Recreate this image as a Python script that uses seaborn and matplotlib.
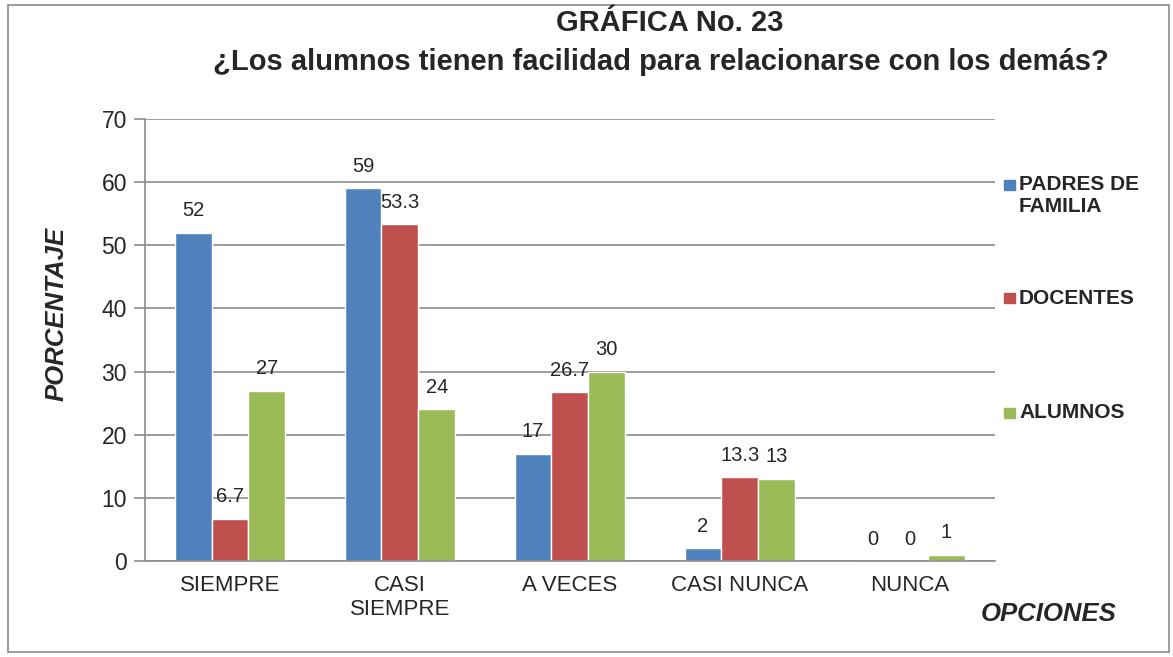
import matplotlib
matplotlib.use("Agg")
import matplotlib.pyplot as plt
import seaborn as sns
import pandas as pd
from matplotlib.patches import Rectangle

# datos
opciones = ["SIEMPRE", "CASI\nSIEMPRE", "A VECES", "CASI NUNCA", "NUNCA"]
grupos = ["PADRES DE\nFAMILIA", "DOCENTES", "ALUMNOS"]
padres = [52, 59, 17, 2, 0]
docentes = [6.7, 53.3, 26.7, 13.3, 0]
alumnos = [27, 24, 30, 13, 1]
colores = ["#4F81BD", "#C0504D", "#9BBB59"]

rows = []
for g, vals in zip(grupos, [padres, docentes, alumnos]):
    for o, v in zip(opciones, vals):
        rows.append({"opcion": o, "grupo": g, "valor": v})
df = pd.DataFrame(rows)

sns.set_style("white")
plt.rcParams["font.family"] = ["Liberation Sans", "DejaVu Sans"]

W, H = 1173, 657
fig = plt.figure(figsize=(W / 100, H / 100), dpi=100)
ax = fig.add_axes([0.1236, 0.146, 0.7244, 0.673])

sns.barplot(data=df, x="opcion", y="valor", hue="grupo", palette=colores,
            order=opciones, hue_order=grupos, width=0.65, saturation=1,
            ax=ax, legend=False)

for cont, vals in zip(ax.containers, [padres, docentes, alumnos]):
    ax.bar_label(cont, labels=[f"{v:g}" for v in vals], padding=9, fontsize=14.5)

ax.set_ylim(0, 70)
ax.set_yticks(range(0, 71, 10))
ax.set_xlim(-0.5, 4.5)
ax.yaxis.grid(True, color="#8c8c8c", linewidth=1.2)
ax.set_axisbelow(True)
for s in ["top", "right"]:
    ax.spines[s].set_visible(False)
for s in ["left", "bottom"]:
    ax.spines[s].set_color("#8c8c8c")
    ax.spines[s].set_linewidth(1.2)
ax.tick_params(axis="y", labelsize=16.5, length=8, color="#8c8c8c", width=1.2, pad=5, left=True)
ax.tick_params(axis="x", labelsize=16, length=0, pad=10)
ax.set_xlabel("")
ax.set_ylabel("")

fig.text(0.048, 0.522, "PORCENTAJE", rotation=90, fontsize=18.5, fontweight="bold",
         fontstyle="italic", ha="center", va="center")
fig.text(0.952, 0.065, "OPCIONES", fontsize=18.5, fontweight="bold",
         fontstyle="italic", ha="right", va="center")
fig.text(0.571, 1 - 23 / H, "GRÁFICA No. 23", fontsize=21, fontweight="bold",
         ha="center", va="center")
fig.text(0.563, 1 - 62 / H, "¿Los alumnos tienen facilidad para relacionarse con los demás?",
         fontsize=21, fontweight="bold", ha="center", va="center")

# leyenda (cada entrada alineada arriba, como en Excel)
leyenda_y = [185, 298, 413]
for g, c, yp in zip(grupos, colores, leyenda_y):
    fig.patches.append(Rectangle((1004 / W, 1 - (yp + 5) / H), 11 / W, 10 / H,
                                 transform=fig.transFigure, color=c))
    for k, linea in enumerate(g.split("\n")):
        fig.text(1019 / W, 1 - (yp + 22 * k) / H, linea, fontsize=15,
                 fontweight="bold", ha="left", va="center")

# borde de la figura
fig.patches.append(Rectangle((0.007, 0.008), 0.99, 0.985, transform=fig.transFigure,
                             fill=False, edgecolor="#8c8c8c", linewidth=1.2))

fig.savefig("out.png", dpi=100)
